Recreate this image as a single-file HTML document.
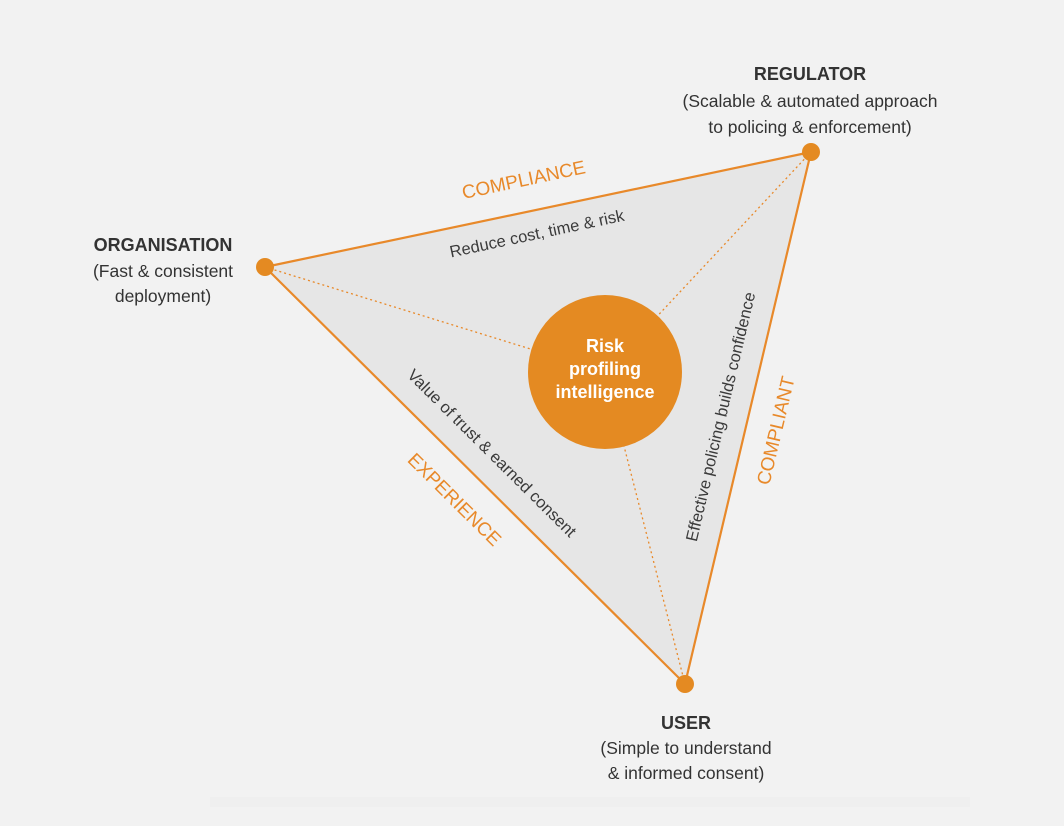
<!DOCTYPE html>
<html><head><meta charset="utf-8"><style>
html,body{margin:0;padding:0;background:#f2f2f2;}
svg{display:block;font-family:"Liberation Sans",Arial,sans-serif;}
</style></head><body>
<svg width="1064" height="826" viewBox="0 0 1064 826" xmlns="http://www.w3.org/2000/svg">
<rect width="1064" height="826" fill="#f2f2f2"/>
<rect x="210" y="797" width="760" height="10" fill="#efefef"/>
<polygon points="265,267 811,152 685,684" fill="#e6e6e6" stroke="#e8892a" stroke-width="2.2" stroke-linejoin="round"/>
<g stroke="#e8892a" stroke-width="1.3" stroke-dasharray="2,3" fill="none">
<line x1="265" y1="267" x2="605" y2="372"/>
<line x1="811" y1="152" x2="605" y2="372"/>
<line x1="685" y1="684" x2="605" y2="372"/>
</g>
<circle cx="605" cy="372" r="77" fill="#e48a22"/>
<circle cx="265" cy="267" r="9" fill="#e48a22"/>
<circle cx="811" cy="152" r="9" fill="#e48a22"/>
<circle cx="685" cy="684" r="9" fill="#e48a22"/>
<g fill="#fff" font-weight="bold" font-size="18" text-anchor="middle">
<text x="605" y="352">Risk</text>
<text x="605" y="375">profiling</text>
<text x="605" y="398">intelligence</text>
</g>
<g fill="#e8892a" font-size="19" text-anchor="middle">
<text transform="translate(525,186) rotate(-12)">COMPLIANCE</text>
<text transform="translate(450,504) rotate(44.8)">EXPERIENCE</text>
<text transform="translate(782,432) rotate(-76.7)">COMPLIANT</text>
</g>
<g fill="#3a3a3a" font-size="16.5" text-anchor="middle">
<text transform="translate(538,239) rotate(-12)">Reduce cost, time &amp; risk</text>
<text transform="translate(488,457) rotate(44.8)">Value of trust &amp; earned consent</text>
<text transform="translate(726,418) rotate(-76.7)">Effective policing builds confidence</text>
</g>
<g fill="#333" font-size="17.5" text-anchor="middle">
<text x="163" y="251" font-weight="bold" font-size="18">ORGANISATION</text>
<text x="163" y="277">(Fast &amp; consistent</text>
<text x="163" y="302">deployment)</text>
<text x="810" y="80" font-weight="bold" font-size="18">REGULATOR</text>
<text x="810" y="107">(Scalable &amp; automated approach</text>
<text x="810" y="133">to policing &amp; enforcement)</text>
<text x="686" y="729" font-weight="bold" font-size="18">USER</text>
<text x="686" y="754">(Simple to understand</text>
<text x="686" y="779">&amp; informed consent)</text>
</g>
</svg>
</body></html>
